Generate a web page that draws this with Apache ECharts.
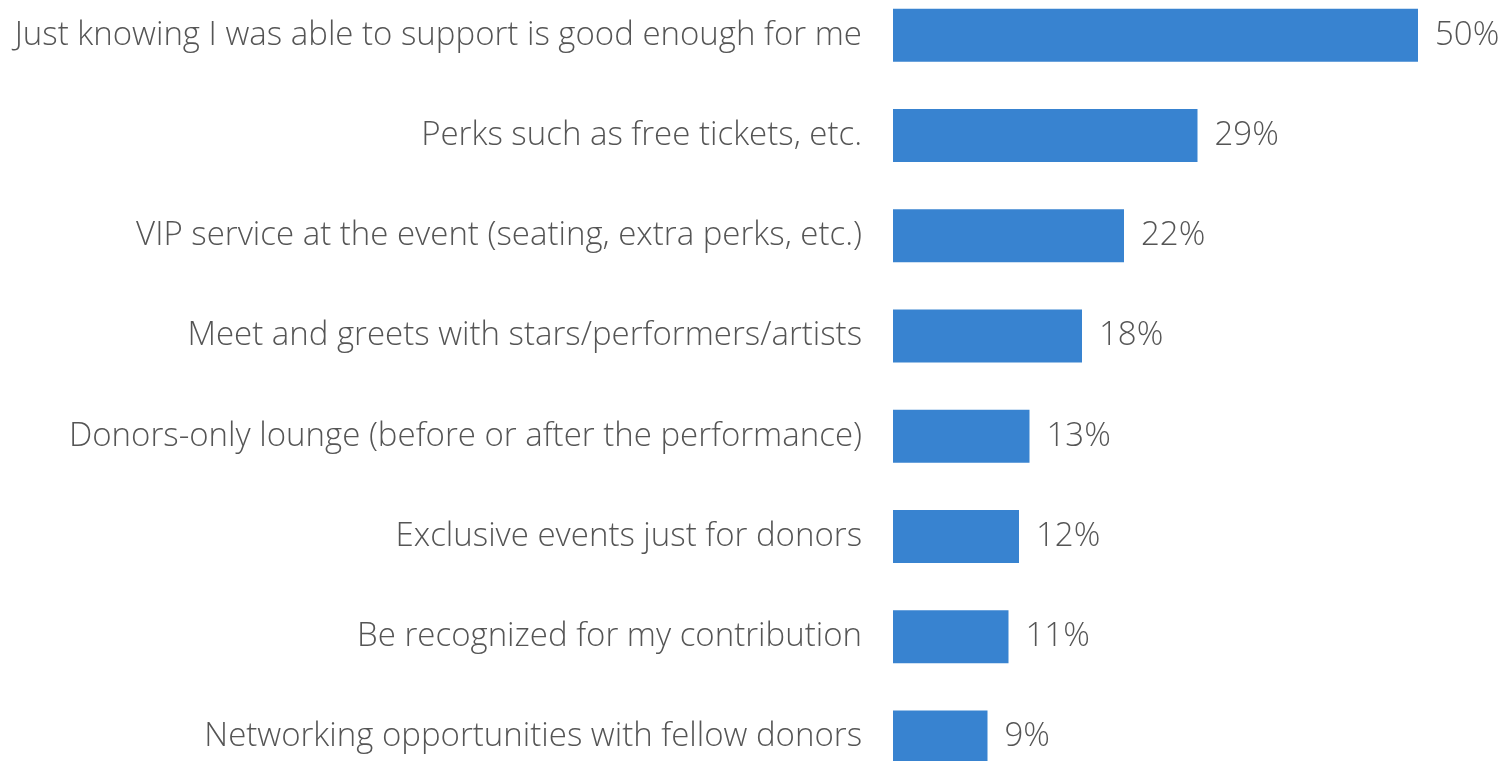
<!DOCTYPE html>
<html>
<head>
<meta charset="utf-8">
<script src="https://cdn.jsdelivr.net/npm/echarts@6/dist/echarts.min.js"></script>
<style>
  html, body { margin: 0; padding: 0; background: #ffffff; }
  #chart { width: 1501px; height: 761px; }
</style>
</head>
<body>
<div id="chart"></div>
<script>
// Donor benefit preferences, share of respondents (%)
const categories = [
  'Just knowing I was able to support is good enough for me',
  'Perks such as free tickets, etc.',
  'VIP service at the event (seating, extra perks, etc.)',
  'Meet and greets with stars/performers/artists',
  'Donors-only lounge (before or after the performance)',
  'Exclusive events just for donors',
  'Be recognized for my contribution',
  'Networking opportunities with fellow donors'
];
const values = [50, 29, 22, 18, 13, 12, 11, 9];

const FONT = '"Open Sans", "Noto Sans", sans-serif';
const TEXT = '#555555';

const chart = echarts.init(document.getElementById('chart'), null, { renderer: 'canvas' });
chart.setOption({
  animation: false,
  backgroundColor: '#ffffff',
  grid: {
    left: 893, top: -15, width: 525, height: 802,
    containLabel: false,
    outerBoundsMode: 'none'
  },
  xAxis: {
    type: 'value', min: 0, max: 50, show: false
  },
  yAxis: {
    type: 'category',
    data: categories,
    inverse: true,
    axisLine: { show: false },
    axisTick: { show: false },
    splitLine: { show: false },
    axisLabel: {
      margin: 31,
      color: TEXT,
      fontFamily: FONT,
      fontSize: 33,
      fontWeight: 300
    }
  },
  series: [{
    type: 'bar',
    data: values,
    barWidth: 53,
    itemStyle: { color: '#3883D0' },
    label: {
      show: true,
      position: 'right',
      distance: 17,
      formatter: '{c}%',
      color: TEXT,
      fontFamily: FONT,
      fontSize: 33,
      fontWeight: 300
    }
  }]
});
</script>
</body>
</html>
